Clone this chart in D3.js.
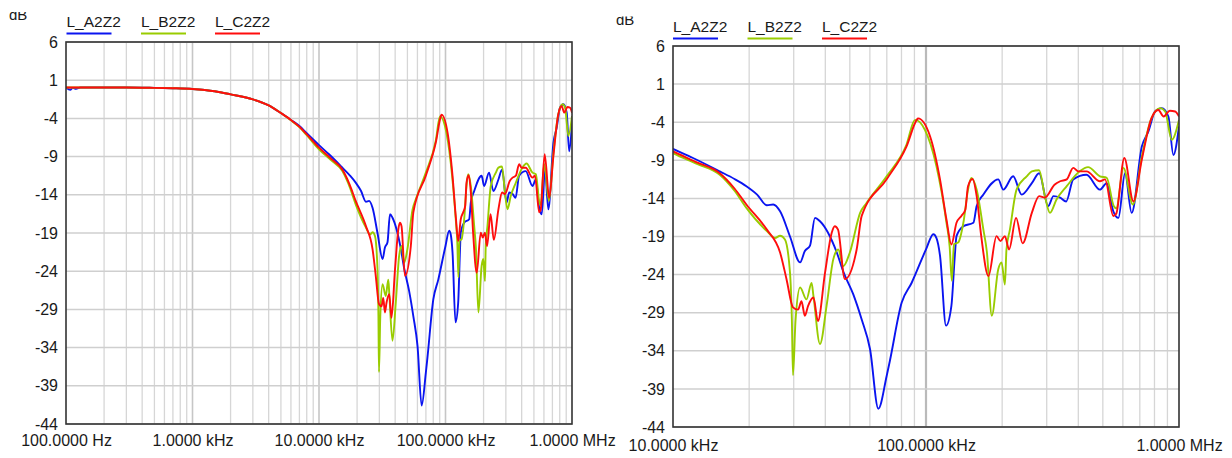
<!DOCTYPE html>
<html><head><meta charset="utf-8">
<script src="https://cdn.jsdelivr.net/npm/d3@7/dist/d3.min.js"></script>
<style>
html,body{margin:0;padding:0;background:#fff;}
svg text{font-family:"Liberation Sans",Arial,sans-serif;fill:#1a1a1a;}
</style></head>
<body>
<svg id="c" width="1232" height="458"></svg>
<script>
// ---------- DATA ----------
const seriesNames = ["L_A2Z2", "L_B2Z2", "L_C2Z2"];
const yTicks = [6, 1, -4, -9, -14, -19, -24, -29, -34, -39, -44];
const xTicksLeft = [100, 1e3, 1e4, 1e5, 1e6];
const xLabelsLeft = ["100.0000 Hz", "1.0000 kHz", "10.0000 kHz", "100.0000 kHz", "1.0000 MHz"];
const xTicksRight = [1e4, 1e5, 1e6];
const xLabelsRight = ["10.0000 kHz", "100.0000 kHz", "1.0000 MHz"];

// [frequency Hz, dB]
const dataA = [
 [100,0.05],[108,-0.25],[113,0.0],[120,-0.12],[130,0.05],[200,0.05],[300,0.05],[500,0.0],[700,-0.05],
 [1000,-0.15],[1500,-0.45],[2000,-0.85],[3000,-1.5],[4000,-2.3],[5000,-3.3],[6000,-4.2],[7000,-5.0],[8000,-5.95],
 [10000,-7.5],[12000,-8.7],[15300,-10.45],[17500,-11.45],[19500,-12.4],[21500,-13.5],[23500,-14.9],[24900,-14.8],[26500,-15.7],[29000,-19.0],
 [31800,-22.4],[33200,-20.9],[34800,-20.2],[36400,-16.55],[38100,-17.0],[44400,-21.1],[47100,-23.6],[51600,-26.6],
 [55700,-29.9],[60100,-33.8],[64800,-41.6],[69900,-37.3],[72000,-35.3],[80100,-27.7],[87700,-25.1],[100000,-20.7],
 [106900,-18.7],[110000,-19.2],[113600,-21.5],[120000,-30.7],[126000,-28.1],[130000,-21.5],[132000,-18.95],
 [140500,-17.65],[153900,-17.2],[158600,-15.0],[168600,-13.5],[193000,-11.5],[202000,-12.85],[221000,-11.1],
 [239000,-13.5],[262000,-12.0],[280000,-10.7],[304000,-15.0],[319000,-13.7],[339000,-13.9],[358000,-14.4],
 [382000,-11.5],[431000,-10.9],[487000,-12.85],[518000,-12.0],[550000,-15.7],[576000,-16.55],[612000,-10.7],
 [650000,-15.9],[713000,-7.2],[757000,-5.2],[804000,-2.6],[855000,-2.15],[908000,-3.25],[950000,-8.3],[1000000,-4.55]
];
const dataB = [
 [100,0.05],[200,0.05],[300,0.05],[500,0.0],[700,-0.05],
 [1000,-0.15],[1500,-0.45],[2000,-0.85],[3000,-1.5],[4000,-2.3],[5000,-3.3],[6000,-4.25],[7000,-5.15],[8000,-6.2],
 [10000,-8.05],[12500,-9.5],[15300,-10.9],[17500,-13.0],[19500,-15.25],[23500,-18.3],[25300,-19.2],[26500,-18.9],[27700,-19.4],[29000,-23.75],
 [29500,-29.9],[29800,-37.2],[30500,-30.0],[31800,-25.7],[33700,-27.25],[35300,-25.1],[35900,-26.8],[38100,-33.1],
 [40500,-28.0],[43000,-22.0],[45000,-20.7],[47100,-22.9],[50000,-21.1],[54900,-15.9],[58200,-14.6],[69900,-11.1],
 [83700,-6.96],[90500,-3.7],[99000,-5.0],[110000,-9.8],[120500,-17.2],[124000,-20.3],[126500,-24.8],[129000,-20.0],
 [134000,-19.8],[140500,-17.2],[146600,-12.85],[151000,-11.3],[158600,-12.85],[168600,-18.1],[174000,-21.0],
 [182000,-29.4],[193000,-23.3],[199000,-22.4],[205000,-25.3],[208000,-20.7],[214600,-18.1],[228000,-12.85],
 [250000,-11.1],[262000,-10.45],[280000,-10.3],[295000,-13.7],[309000,-15.9],[328000,-14.15],[360000,-12.4],
 [405000,-10.45],[437000,-9.9],[487000,-11.1],[518000,-11.3],[552000,-15.0],[565000,-15.3],[603000,-10.0],
 [657000,-14.8],[713000,-8.5],[778000,-3.5],[842000,-2.15],[882000,-2.6],[936000,-6.3],[1000000,-3.7]
];
const dataC = [
 [100,0.05],[200,0.05],[300,0.05],[500,0.0],[700,-0.05],
 [1000,-0.15],[1500,-0.45],[2000,-0.85],[3000,-1.5],[4000,-2.3],[5000,-3.3],[6000,-4.2],[7000,-5.1],[8000,-6.1],
 [10000,-7.83],[12500,-9.3],[15300,-10.7],[17500,-12.7],[19500,-14.8],[23500,-18.1],[26500,-21.1],[28100,-24.6],[29800,-28.3],[31200,-28.6],
 [32200,-27.5],[33200,-29.4],[34200,-28.1],[35900,-27.0],[37400,-30.1],[39900,-23.75],[42400,-18.5],[43600,-17.65],
 [44900,-18.1],[47800,-24.6],[53200,-20.7],[55700,-16.3],[69900,-11.5],[83700,-7.2],[91900,-3.7],[93000,-3.5],
 [103900,-5.9],[113600,-11.5],[120500,-16.8],[126000,-20.05],[132000,-17.2],[138000,-16.3],[143000,-15.5],
 [146600,-12.4],[152600,-11.45],[158600,-13.7],[165300,-18.95],[176500,-24.2],[190000,-18.95],[197000,-19.6],
 [205000,-18.95],[213000,-20.7],[227000,-16.55],[241000,-19.9],[262000,-15.9],[280000,-13.7],[295000,-13.9],
 [322000,-12.2],[339000,-11.75],[360000,-11.5],[382000,-10.0],[400000,-10.45],[431000,-10.45],[487000,-11.75],
 [510000,-11.5],[550000,-16.3],[565000,-16.0],[608000,-8.7],[660000,-14.4],[713000,-8.9],[778000,-3.5],
 [828000,-2.4],[870000,-3.25],[920000,-2.5],[966000,-2.6],[1000000,-3.25]
];
const seriesData = [dataA, dataB, dataC];
const seriesColors = ["#0a14f0", "#99cc00", "#ff0d0d"];

// ---------- LAYOUT ----------
const charts = [
  {id:"L", x0:66, x1:572, y0:42, y1:424, domain:[100,1e6], ticks:xTicksLeft, labels:xLabelsLeft,
   dbX:9, dbY:20, dbClip:12, legY:27, legLineY:33.5, legOffsets:[0.5,75,149], xLabY:446,
   majorColor:"#c6c6c6", majorWidth:1.6},
  {id:"R", x0:673, x1:1179, y0:46, y1:427, domain:[1e4,1e6], ticks:xTicksRight, labels:xLabelsRight,
   dbX:616, dbY:25, dbClip:16.5, legY:32, legLineY:38.5, legOffsets:[0,74.5,149], xLabY:451,
   majorColor:"#bababa", majorWidth:2.2}
];

const svg = d3.select("#c");
const defs = svg.append("defs");

charts.forEach(cfg => {
  const x = d3.scaleLog().domain(cfg.domain).range([cfg.x0, cfg.x1]);
  const y = d3.scaleLinear().domain([-44, 6]).range([cfg.y1, cfg.y0]);
  const g = svg.append("g");

  // minor and major vertical grid
  const lo = Math.log10(cfg.domain[0]), hi = Math.log10(cfg.domain[1]);
  const minor = [], major = [];
  for (let d = lo; d < hi; d++) {
    for (let k = 2; k <= 9; k++) minor.push(k * Math.pow(10, d));
    if (d > lo) major.push(Math.pow(10, d));
  }
  g.selectAll(".vmin").data(minor).join("line")
    .attr("x1", d => x(d)).attr("x2", d => x(d)).attr("y1", cfg.y0).attr("y2", cfg.y1)
    .attr("stroke", "#d6d6d6").attr("stroke-width", 1.3);
  g.selectAll(".vmaj").data(major).join("line")
    .attr("x1", d => x(d)).attr("x2", d => x(d)).attr("y1", cfg.y0).attr("y2", cfg.y1)
    .attr("stroke", cfg.majorColor).attr("stroke-width", cfg.majorWidth);
  g.selectAll(".hgrid").data(yTicks).join("line")
    .attr("x1", cfg.x0).attr("x2", cfg.x1).attr("y1", d => y(d)).attr("y2", d => y(d))
    .attr("stroke", "#cfcfcf").attr("stroke-width", 1.5);

  // curves
  defs.append("clipPath").attr("id", "clip" + cfg.id).append("rect")
    .attr("x", cfg.x0).attr("y", cfg.y0).attr("width", cfg.x1 - cfg.x0).attr("height", cfg.y1 - cfg.y0);
  const line = d3.line().x(d => x(d[0])).y(d => y(d[1])).curve(d3.curveMonotoneX);
  const cg = g.append("g").attr("clip-path", `url(#clip${cfg.id})`);
  seriesData.forEach((s, i) => {
    cg.append("path").datum(s.filter(d => d[0] >= cfg.domain[0] * 0.7))
      .attr("d", line).attr("fill", "none").attr("stroke", seriesColors[i])
      .attr("stroke-width", 1.9).attr("stroke-linejoin", "round");
  });

  // frame
  g.append("rect").attr("x", cfg.x0).attr("y", cfg.y0).attr("width", cfg.x1 - cfg.x0).attr("height", cfg.y1 - cfg.y0)
    .attr("fill", "none").attr("stroke", "#333").attr("stroke-width", 1.6);

  // y axis labels
  const yAxis = d3.axisLeft(y).tickValues(yTicks).tickSize(0).tickPadding(8).tickFormat(d => d);
  const ya = g.append("g").attr("transform", `translate(${cfg.x0},0)`).call(yAxis);
  ya.select(".domain").remove();
  ya.selectAll("text").attr("font-size", 16).attr("fill", "#1a1a1a")
    .style("font-family", '"Liberation Sans",Arial,sans-serif');

  // x axis labels
  const xAxis = d3.axisBottom(x).tickValues(cfg.ticks).tickSize(0)
    .tickFormat((d, i) => cfg.labels[i]);
  const xa = g.append("g").attr("transform", `translate(0,${cfg.y1})`).call(xAxis);
  xa.select(".domain").remove();
  xa.selectAll("text").attr("font-size", 16).attr("fill", "#1a1a1a").attr("dy", null).attr("y", cfg.xLabY - cfg.y1)
    .style("font-family", '"Liberation Sans",Arial,sans-serif');

  // dB unit label (top partly clipped as in original)
  defs.append("clipPath").attr("id", "dbclip" + cfg.id).append("rect")
    .attr("x", cfg.dbX - 5).attr("y", cfg.dbClip).attr("width", 40).attr("height", 20);
  g.append("text").attr("x", cfg.dbX).attr("y", cfg.dbY).attr("font-size", 15)
    .attr("clip-path", `url(#dbclip${cfg.id})`).text("dB");

  // legend
  seriesNames.forEach((n, i) => {
    const lx = cfg.x0 + cfg.legOffsets[i];
    g.append("text").attr("x", lx).attr("y", cfg.legY).attr("font-size", 15.5).text(n);
    g.append("line").attr("x1", lx).attr("x2", lx + 45).attr("y1", cfg.legLineY).attr("y2", cfg.legLineY)
      .attr("stroke", seriesColors[i]).attr("stroke-width", 2.2);
  });
});
</script>
</body></html>
